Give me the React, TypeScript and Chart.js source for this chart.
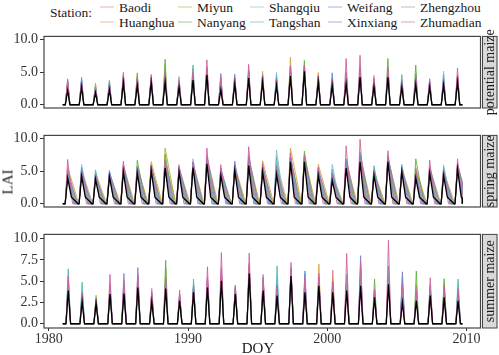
import React, { useEffect, useRef } from "react";
import { Chart, registerables } from "chart.js";
Chart.register(...registerables);

// ---------- data ----------
const YEARS = [1981, 1982, 1983, 1984, 1985, 1986, 1987, 1988, 1989, 1990, 1991, 1992, 1993, 1994, 1995, 1996, 1997, 1998, 1999, 2000, 2001, 2002, 2003, 2004, 2005, 2006, 2007, 2008, 2009];
const STATIONS = ["Baodi", "Huanghua", "Miyun", "Nanyang", "Shangqiu", "Tangshan", "Weifang", "Xinxiang", "Zhengzhou", "Zhumadian"];
const PANELS = ["potential maize", "spring maize", "summer maize"];
const X_TICKS = [1980, 1990, 2000, 2010];
const Y_TICKS = [0, 2.5, 5, 7.5, 10];
const SERIES_START = 1981.0;
const SERIES_END = 2009.7;

// season timing (fraction of the year): rise, peak, end
const POT_TIMING = [0.18, 0.35, 0.51];
const SUM_TIMING = [0.23, 0.39, 0.56];
const SPRING_RISE = 0.17;
const SPRING_PEAK = 0.35;
const SPRING_END = [1.0, 1.15, 1.1, 0.95, 0.9, 0.85, 0.8, 1.05, 0.9, 0.7];
const SPRING_MEAN_SHOULDER = [0.62, 1.0]; // time, LAI
const SPRING_MEAN_END = 1.1;

// potential maize peak LAI per year
const POT_BAODI = [2.9, 3.1, 2.4, 2.8, 3.9, 3.5, 3.8, 4.2, 3.2, 4.3, 5.0, 3.0, 3.6, 4.6, 4.0, 3.5, 5.0, 5.5, 3.9, 3.4, 4.0, 4.8, 4.5, 4.7, 3.1, 3.6, 3.0, 3.4, 3.9];
const POT_HUANGHUA = [3.1, 3.4, 3.0, 3.6, 4.2, 3.8, 4.0, 4.6, 3.5, 4.6, 5.3, 3.4, 3.9, 4.9, 5.15, 3.8, 7.3, 5.8, 4.95, 3.7, 4.5, 5.2, 3.6, 5.0, 3.4, 4.0, 3.2, 3.7, 4.2];
const POT_MIYUN = [2.6, 2.9, 3.3, 3.2, 3.7, 4.4, 3.7, 6.2, 3.0, 4.1, 4.9, 2.8, 3.5, 4.4, 4.3, 3.4, 5.4, 6.0, 4.1, 3.3, 3.8, 4.6, 3.2, 5.6, 3.6, 4.8, 2.9, 3.3, 3.8];
const POT_NANYANG = [3.3, 3.6, 2.7, 3.0, 4.4, 4.9, 4.2, 7.0, 3.7, 5.6, 5.6, 3.6, 4.0, 5.2, 4.1, 3.9, 5.6, 6.8, 4.3, 3.8, 4.8, 5.5, 3.8, 7.1, 3.9, 6.1, 3.3, 3.9, 4.4];
const POT_SHANGQIU = [3.5, 3.8, 2.5, 3.4, 4.0, 3.6, 3.9, 4.0, 3.9, 4.9, 5.2, 3.2, 4.2, 4.8, 3.9, 4.95, 5.1, 5.6, 3.8, 4.2, 4.2, 5.0, 3.4, 4.8, 3.3, 3.8, 3.1, 5.15, 4.0];
const POT_TANGSHAN = [3.0, 3.9, 2.8, 3.8, 3.8, 4.0, 4.1, 4.8, 3.4, 6.1, 5.4, 3.1, 4.1, 4.5, 4.5, 4.5, 5.8, 5.7, 4.0, 4.0, 4.4, 5.1, 3.3, 5.2, 4.65, 4.3, 3.4, 4.6, 4.1];
const POT_WEIFANG = [3.6, 4.2, 2.6, 2.9, 4.1, 3.4, 3.6, 3.9, 3.3, 4.4, 5.1, 3.5, 4.7, 5.0, 3.8, 4.1, 4.9, 5.4, 4.4, 4.9, 4.1, 4.9, 3.5, 4.6, 3.5, 3.5, 3.5, 4.0, 4.3];
const POT_XINXIANG = [3.4, 3.5, 2.3, 3.3, 4.5, 3.9, 4.3, 4.4, 3.8, 4.7, 5.8, 4.8, 3.7, 5.4, 4.2, 3.6, 5.2, 5.9, 4.2, 3.6, 5.0, 5.8, 3.9, 5.4, 3.2, 4.1, 4.0, 3.6, 4.6];
const POT_ZHENGZHOU = [4.0, 3.3, 2.9, 2.7, 4.3, 3.7, 4.0, 4.1, 4.3, 4.2, 5.5, 3.9, 3.8, 4.7, 4.0, 3.7, 5.3, 5.5, 3.9, 3.5, 4.6, 5.3, 3.7, 4.9, 3.0, 3.7, 3.6, 3.5, 4.5];
const POT_ZHUMADIAN = [3.8, 3.7, 2.2, 3.1, 5.0, 4.2, 4.65, 5.0, 3.6, 5.0, 6.9, 4.3, 4.3, 6.2, 4.6, 3.9, 6.0, 6.1, 4.5, 3.9, 7.1, 7.6, 4.1, 5.8, 3.7, 4.5, 3.7, 3.8, 5.65];
const POT_MEAN = [2.2, 2.7, 1.85, 2.3, 3.4, 2.95, 3.4, 3.5, 2.7, 3.8, 4.6, 2.3, 3.2, 4.1, 3.5, 2.95, 4.4, 5.15, 3.5, 3.0, 3.2, 4.25, 2.8, 4.2, 2.7, 3.1, 2.7, 3.0, 3.5];

// spring maize peak LAI per year
const SPR_BAODI = [4.6, 4.7, 4.1, 4.3, 5.2, 5.0, 5.4, 5.9, 5.0, 5.8, 6.5, 4.6, 5.4, 6.2, 5.2, 4.9, 6.7, 6.7, 4.6, 3.9, 5.9, 6.8, 4.6, 6.7, 5.1, 4.3, 5.0, 4.6, 5.6];
const SPR_HUANGHUA = [5.6, 5.2, 4.8, 4.7, 5.9, 5.6, 6.45, 6.6, 5.5, 6.2, 7.2, 5.0, 5.9, 6.9, 6.6, 6.2, 8.55, 7.2, 6.05, 4.6, 6.6, 7.5, 5.0, 7.1, 5.5, 5.2, 5.6, 5.0, 6.0];
const SPR_MIYUN = [4.2, 4.5, 4.3, 4.4, 5.4, 5.8, 5.6, 8.55, 5.1, 5.9, 6.6, 4.8, 5.5, 6.4, 5.4, 5.3, 7.0, 7.4, 4.9, 4.2, 6.1, 7.0, 4.8, 6.9, 5.2, 5.6, 5.2, 4.7, 5.7];
const SPR_NANYANG = [5.0, 5.0, 4.6, 4.5, 5.6, 6.7, 5.8, 7.6, 5.3, 6.1, 7.0, 5.2, 5.7, 7.1, 5.8, 5.6, 7.3, 8.1, 5.1, 4.4, 6.4, 7.3, 5.4, 7.2, 5.4, 6.9, 5.4, 4.9, 5.9];
const SPR_SHANGQIU = [5.3, 6.05, 4.9, 4.8, 5.5, 5.3, 5.5, 6.1, 5.6, 6.9, 6.8, 5.4, 6.1, 6.6, 5.5, 8.25, 7.5, 6.9, 5.3, 6.05, 6.2, 7.1, 5.2, 7.0, 5.7, 4.6, 5.5, 5.95, 5.8];
const SPR_TANGSHAN = [4.8, 5.6, 5.2, 4.6, 5.3, 5.5, 5.9, 6.3, 5.2, 6.5, 6.7, 5.1, 5.8, 6.5, 5.6, 7.2, 7.1, 7.0, 5.0, 5.3, 6.0, 6.9, 5.85, 6.8, 6.05, 4.8, 5.3, 5.6, 6.1];
const SPR_WEIFANG = [4.4, 5.4, 4.5, 5.1, 5.7, 5.2, 5.3, 5.8, 5.4, 6.0, 6.4, 4.9, 6.55, 6.3, 5.3, 5.8, 6.9, 6.8, 4.8, 4.8, 6.3, 7.2, 4.9, 7.3, 5.6, 4.5, 5.1, 5.2, 5.5];
const SPR_XINXIANG = [5.1, 4.9, 4.2, 4.9, 6.0, 5.7, 5.7, 6.4, 5.7, 6.3, 7.4, 5.5, 5.6, 7.4, 5.9, 5.1, 7.2, 7.1, 5.4, 4.3, 6.9, 7.9, 4.7, 7.4, 5.3, 5.0, 5.7, 4.8, 6.2];
const SPR_ZHENGZHOU = [4.5, 4.6, 4.0, 4.2, 5.1, 4.9, 5.2, 5.7, 4.9, 5.7, 6.3, 4.5, 5.3, 6.1, 5.1, 4.8, 6.6, 6.6, 4.5, 3.8, 5.8, 6.7, 4.5, 6.6, 5.0, 4.2, 4.9, 4.5, 5.4];
const SPR_ZHUMADIAN = [6.8, 5.1, 4.4, 4.5, 6.55, 5.4, 6.0, 6.8, 6.0, 6.4, 8.55, 6.0, 6.0, 8.75, 6.2, 5.5, 7.8, 7.5, 5.6, 4.5, 8.9, 9.9, 5.1, 8.15, 5.4, 5.3, 6.7, 5.1, 6.9];
const SPR_MEAN = [3.95, 4.25, 3.75, 4.1, 4.9, 4.7, 5.1, 5.5, 4.8, 5.55, 6.15, 4.35, 5.1, 5.85, 4.9, 4.5, 6.45, 6.45, 4.35, 3.55, 5.5, 6.45, 4.35, 6.45, 4.9, 3.95, 4.7, 4.35, 5.3];

// summer maize peak LAI per year
const SUM_BAODI = [4.3, 3.0, 2.6, 3.8, 3.9, 4.6, 2.9, 4.5, 3.0, 4.0, 4.6, 5.4, 3.7, 6.2, 4.2, 3.6, 5.9, 4.0, 4.8, 6.3, 4.3, 4.8, 3.4, 5.0, 2.9, 3.0, 3.6, 3.4, 3.0];
const SUM_HUANGHUA = [4.6, 3.3, 3.0, 4.0, 4.1, 4.8, 3.1, 4.8, 3.1, 4.2, 4.9, 5.8, 3.9, 6.5, 4.4, 3.9, 6.1, 4.3, 7.0, 5.4, 4.6, 5.1, 3.6, 5.3, 3.2, 3.3, 3.8, 3.6, 3.3];
const SUM_MIYUN = [4.1, 2.9, 3.35, 3.7, 3.8, 4.5, 2.8, 6.6, 2.9, 3.9, 4.5, 5.3, 3.6, 6.1, 4.1, 3.5, 5.8, 3.9, 5.0, 4.2, 4.2, 4.7, 3.9, 4.9, 2.8, 4.6, 3.5, 4.8, 2.9];
const SUM_NANYANG = [4.8, 3.4, 2.9, 4.2, 4.3, 5.0, 3.3, 7.45, 3.2, 4.4, 5.1, 6.0, 4.0, 6.8, 4.6, 4.2, 6.2, 4.5, 5.3, 4.5, 4.9, 5.3, 5.25, 5.6, 3.5, 6.2, 4.0, 5.3, 3.6];
const SUM_SHANGQIU = [5.2, 3.9, 2.7, 4.4, 4.5, 5.2, 3.4, 4.9, 3.3, 4.6, 5.0, 5.9, 4.1, 6.6, 4.8, 5.4, 6.0, 4.7, 5.1, 4.6, 5.0, 5.6, 3.7, 5.8, 3.7, 3.5, 4.2, 3.9, 4.6];
const SUM_TANGSHAN = [6.45, 4.9, 2.8, 4.1, 4.2, 4.9, 3.0, 5.0, 3.1, 5.25, 4.8, 5.6, 3.8, 6.4, 4.5, 6.8, 6.1, 4.4, 5.2, 4.4, 4.7, 5.2, 3.5, 5.4, 3.4, 3.4, 3.9, 3.7, 5.25];
const SUM_WEIFANG = [5.0, 3.6, 2.6, 3.9, 4.6, 5.5, 3.2, 4.6, 3.0, 4.3, 5.2, 6.1, 4.2, 6.7, 5.0, 4.6, 6.3, 6.2, 4.9, 4.3, 5.2, 6.8, 3.6, 6.0, 5.4, 3.2, 4.1, 3.5, 3.8];
const SUM_XINXIANG = [4.7, 3.2, 2.8, 4.6, 5.9, 6.6, 3.6, 5.2, 3.4, 4.1, 5.5, 6.6, 4.55, 7.1, 5.3, 4.0, 6.6, 5.8, 5.5, 4.8, 5.8, 8.0, 3.8, 6.8, 6.1, 3.8, 4.5, 4.2, 3.5];
const SUM_ZHENGZHOU = [4.4, 3.1, 2.5, 4.3, 4.8, 5.3, 4.15, 4.7, 3.5, 4.0, 5.3, 6.3, 4.3, 6.9, 5.8, 3.8, 6.4, 5.0, 5.4, 4.7, 5.5, 6.2, 3.5, 6.3, 4.2, 3.6, 4.3, 4.0, 3.4];
const SUM_ZHUMADIAN = [5.6, 3.5, 2.7, 5.8, 5.1, 5.8, 3.8, 5.4, 3.95, 4.5, 6.7, 8.35, 4.4, 8.3, 5.5, 4.4, 7.2, 5.3, 5.9, 5.0, 8.25, 7.2, 4.1, 9.8, 4.6, 4.0, 5.4, 4.4, 4.1];
const SUM_MEAN = [3.9, 2.6, 2.4, 3.5, 3.55, 4.25, 2.6, 4.15, 2.7, 3.7, 4.25, 5.05, 3.5, 5.9, 3.9, 3.3, 5.6, 3.7, 4.45, 3.7, 3.9, 4.45, 3.1, 4.65, 2.5, 2.7, 3.3, 3.1, 2.7];

const POTENTIAL = [POT_BAODI, POT_HUANGHUA, POT_MIYUN, POT_NANYANG, POT_SHANGQIU, POT_TANGSHAN, POT_WEIFANG, POT_XINXIANG, POT_ZHENGZHOU, POT_ZHUMADIAN];
const SPRING = [SPR_BAODI, SPR_HUANGHUA, SPR_MIYUN, SPR_NANYANG, SPR_SHANGQIU, SPR_TANGSHAN, SPR_WEIFANG, SPR_XINXIANG, SPR_ZHENGZHOU, SPR_ZHUMADIAN];
const SUMMER = [SUM_BAODI, SUM_HUANGHUA, SUM_MIYUN, SUM_NANYANG, SUM_SHANGQIU, SUM_TANGSHAN, SUM_WEIFANG, SUM_XINXIANG, SUM_ZHENGZHOU, SUM_ZHUMADIAN];

// ---------- styles ----------
const COLORS = ["#E07A8A", "#DCA040", "#A8B030", "#5DB040", "#90B8D0", "#50B8B0", "#5090D8", "#8080C8", "#A890A8", "#D0609A"];
const FONT = "'Liberation Serif', 'Times New Roman', Times, serif";
const W = 499;
const PANEL_TOPS = [36, 135, 234];
const PANEL_H = 94;
const PAD = 10;
const XAXIS_H = 22;
const PLOT_LEFT = 44;
const PLOT_RIGHT_PAD = 18.5;
const LEGEND_COLS = [100, 178, 250, 328, 401];

type Pt = { x: number; y: number };

function spikes(peaks: number[], timing: number[]): Pt[] {
  const pts: Pt[] = [{ x: SERIES_START, y: 0 }];
  YEARS.forEach((yr, i) => {
    const end = Math.min(yr + timing[2], SERIES_END);
    pts.push({ x: yr + timing[0], y: 0 }, { x: yr + timing[1], y: peaks[i] }, { x: end, y: 0 });
  });
  const last = pts[pts.length - 1];
  if (last.x < SERIES_END) pts.push({ x: SERIES_END, y: 0 });
  return pts;
}

function springStation(peaks: number[], endOff: number): Pt[] {
  const pts: Pt[] = [{ x: SERIES_START, y: 0 }];
  YEARS.forEach((yr, i) => {
    pts.push({ x: yr + SPRING_RISE, y: 0 }, { x: yr + SPRING_PEAK, y: peaks[i] });
    const endX = yr + endOff;
    if (endX > SERIES_END) {
      // the record stops: value at the cut, then straight down
      const frac = (SERIES_END - (yr + SPRING_PEAK)) / (endOff - SPRING_PEAK);
      pts.push({ x: SERIES_END, y: peaks[i] * (1 - frac) }, { x: SERIES_END, y: 0 });
    } else {
      pts.push({ x: endX, y: 0 });
    }
  });
  const last = pts[pts.length - 1];
  if (last.x < SERIES_END) pts.push({ x: SERIES_END, y: 0 });
  return pts;
}

function springMean(peaks: number[]): Pt[] {
  const pts: Pt[] = [{ x: SERIES_START, y: 0 }];
  YEARS.forEach((yr, i) => {
    pts.push(
      { x: yr + SPRING_RISE, y: 0 },
      { x: yr + SPRING_PEAK, y: peaks[i] },
      { x: yr + SPRING_MEAN_SHOULDER[0], y: SPRING_MEAN_SHOULDER[1] }
    );
    const endX = yr + SPRING_MEAN_END;
    if (endX > SERIES_END) {
      pts.push({ x: SERIES_END, y: SPRING_MEAN_SHOULDER[1] * 0.8 }, { x: SERIES_END, y: 0 });
    } else {
      pts.push({ x: endX, y: 0 });
    }
  });
  const last = pts[pts.length - 1];
  if (last.x < SERIES_END) pts.push({ x: SERIES_END, y: 0 });
  return pts;
}

function buildPanel(k: number): { series: Pt[][]; mean: Pt[] } {
  if (k === 0) return { series: POTENTIAL.map((p) => spikes(p, POT_TIMING)), mean: spikes(POT_MEAN, POT_TIMING) };
  if (k === 2) return { series: SUMMER.map((p) => spikes(p, SUM_TIMING)), mean: spikes(SUM_MEAN, SUM_TIMING) };
  return {
    series: SPRING.map((p, i) => springStation(p, SPRING_END[i])),
    mean: springMean(SPR_MEAN),
  };
}

function Panel({ k }: { k: number }) {
  const ref = useRef<HTMLCanvasElement>(null);
  const showX = k === 2;
  const h = PAD + PANEL_H + (showX ? XAXIS_H : PAD);
  useEffect(() => {
    const { series, mean } = buildPanel(k);
    const datasets: any[] = [
      { label: "mean", data: mean, borderColor: "#000000", borderWidth: 1.3, order: 0 },
      ...series.map((d, i) => ({
        label: STATIONS[i],
        data: d,
        borderColor: COLORS[i] + "E0",
        borderWidth: 1,
        order: 10 - i,
      })),
    ];
    const framePlugin = {
      id: "frame" + k,
      afterDraw(chart: any) {
        const { ctx, chartArea } = chart;
        const { left, right, top, bottom } = chartArea;
        ctx.save();
        ctx.strokeStyle = "#444444";
        ctx.lineWidth = 1.2;
        ctx.strokeRect(left, top, right - left, bottom - top);
        // facet strip
        const sx = right + 1.5;
        const sw = 15.5;
        ctx.fillStyle = "#D9D9D9";
        ctx.fillRect(sx, top, sw, bottom - top);
        ctx.lineWidth = 1;
        ctx.strokeStyle = "#444444";
        ctx.strokeRect(sx + 0.5, top, sw - 1, bottom - top);
        ctx.translate(sx + sw / 2, (top + bottom) / 2);
        ctx.rotate(-Math.PI / 2);
        ctx.fillStyle = "#1A1A1A";
        ctx.font = `14px ${FONT}`;
        ctx.textAlign = "center";
        ctx.textBaseline = "middle";
        ctx.fillText(PANELS[k], 0, 0.5);
        ctx.restore();
      },
    };
    const chart = new Chart(ref.current as HTMLCanvasElement, {
      type: "line",
      data: { datasets },
      options: {
        animation: false,
        responsive: false,
        maintainAspectRatio: false,
        layout: { padding: { left: 0, right: PLOT_RIGHT_PAD, top: PAD, bottom: showX ? 0 : PAD } },
        plugins: { legend: { display: false }, tooltip: { enabled: false } },
        elements: { point: { radius: 0 }, line: { tension: 0 } },
        scales: {
          x: {
            type: "linear",
            min: 1979.65,
            max: 2011.0,
            display: showX,
            afterBuildTicks: (s: any) => {
              s.ticks = X_TICKS.map((v) => ({ value: v }));
            },
            afterFit: (s: any) => {
              s.height = XAXIS_H;
            },
            ticks: {
              autoSkip: false,
              maxRotation: 0,
              padding: 0,
              color: "#333333",
              font: { family: FONT, size: 14 },
              callback: (v: any) => String(v),
            },
            grid: { drawOnChartArea: false, drawTicks: true, tickLength: 3, color: "#333333" },
            border: { display: false },
          },
          y: {
            type: "linear",
            min: -0.5,
            max: 10.5,
            afterBuildTicks: (s: any) => {
              s.ticks = Y_TICKS.map((v) => ({ value: v }));
            },
            afterFit: (s: any) => {
              s.width = PLOT_LEFT;
            },
            ticks: {
              padding: 2,
              color: "#333333",
              font: { family: FONT, size: 14 },
              callback: (v: any) => Number(v).toFixed(1),
            },
            grid: { drawOnChartArea: false, drawTicks: true, tickLength: 4, color: "#333333" },
            border: { display: false },
          },
        },
      } as any,
      plugins: [framePlugin],
    });
    return () => chart.destroy();
  }, [k]);
  return (
    <canvas
      ref={ref}
      width={W}
      height={h}
      style={{ position: "absolute", left: 0, top: PANEL_TOPS[k] - PAD, width: W, height: h }}
    />
  );
}

export default function App() {
  return (
    <div
      style={{
        position: "fixed",
        left: 0,
        top: 0,
        width: W,
        height: 355,
        background: "#ffffff",
        overflow: "hidden",
        fontFamily: FONT,
        color: "#1A1A1A",
      }}
    >
      <div style={{ position: "absolute", left: 50, top: 13, transform: "translateY(-50%)", fontSize: 13.5, whiteSpace: "nowrap" }}>
        Station:
      </div>
      {STATIONS.map((s, i) => {
        const col = Math.floor(i / 2);
        const row = i % 2;
        return (
          <div
            key={s}
            style={{
              position: "absolute",
              left: LEGEND_COLS[col],
              top: row === 0 ? 6.5 : 21.5,
              transform: "translateY(-50%)",
              display: "flex",
              alignItems: "center",
              whiteSpace: "nowrap",
              fontSize: 13.5,
              lineHeight: "15px",
            }}
          >
            <span
              style={{
                display: "inline-block",
                width: 14,
                height: 1,
                background: COLORS[i],
                opacity: 0.6,
                marginRight: 5,
              }}
            />
            {s}
          </div>
        );
      })}
      {[0, 1, 2].map((k) => (
        <Panel key={k} k={k} />
      ))}
      <div
        style={{
          position: "absolute",
          left: 8,
          top: 182,
          transform: "translate(-50%, -50%) rotate(-90deg)",
          fontSize: 15,
          whiteSpace: "nowrap",
        }}
      >
        LAI
      </div>
      <div
        style={{
          position: "absolute",
          left: 258,
          top: 348,
          transform: "translate(-50%, -50%)",
          fontSize: 15,
          whiteSpace: "nowrap",
        }}
      >
        DOY
      </div>
    </div>
  );
}
